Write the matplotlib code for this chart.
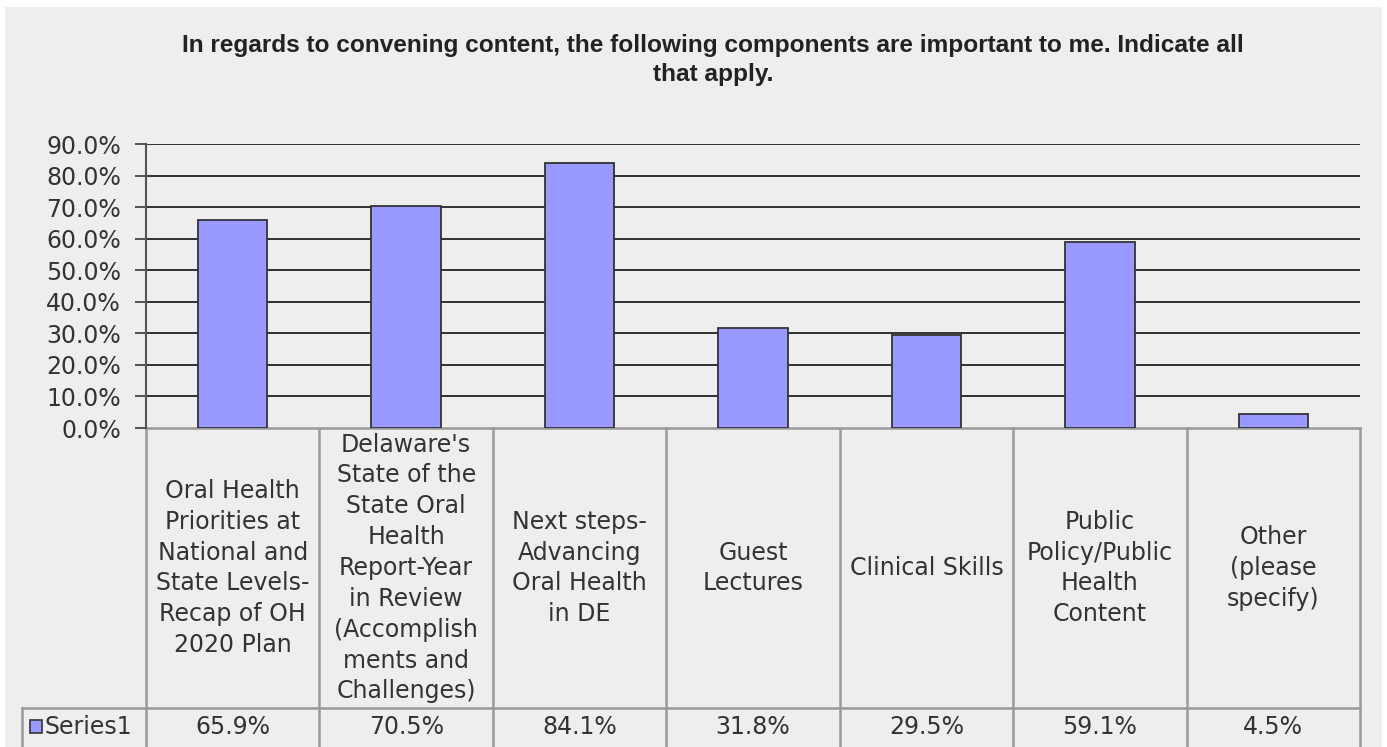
import matplotlib
matplotlib.use("Agg")
import matplotlib.pyplot as plt
from matplotlib.patches import Rectangle
from matplotlib.lines import Line2D

# survey results
categories = [
    "Oral Health\nPriorities at\nNational and\nState Levels-\nRecap of OH\n2020 Plan",
    "Delaware's\nState of the\nState Oral\nHealth\nReport-Year\nin Review\n(Accomplish\nments and\nChallenges)",
    "Next steps-\nAdvancing\nOral Health\nin DE",
    "Guest\nLectures",
    "Clinical Skills",
    "Public\nPolicy/Public\nHealth\nContent",
    "Other\n(please\nspecify)",
]
values = [65.9, 70.5, 84.1, 31.8, 29.5, 59.1, 4.5]
series_name = "Series1"
title = ("In regards to convening content, the following components are important to me. Indicate all\n"
         "that apply.")

W, H = 1387, 747
BG = "#eeeeee"
BAR = "#9999ff"
TXT = "#333333"
GRIDC = "#222222"
TABC = "#999999"
FS = 17

fig = plt.figure(figsize=(W / 100, H / 100), dpi=100, facecolor="white")

# overlay in pixel coordinates for background and table
ov = fig.add_axes([0, 0, 1, 1], zorder=0)
ov.set_xlim(0, W)
ov.set_ylim(H, 0)
ov.axis("off")
ov.add_patch(Rectangle((5, 7), 1377, H - 7, facecolor=BG, edgecolor="none"))

# plot area
left, right, top, bottom = 146, 1360, 144, 428
ax = fig.add_axes([left / W, 1 - bottom / H, (right - left) / W, (bottom - top) / H], zorder=1)
ax.patch.set_alpha(0)
n = len(values)
x = range(n)
ax.bar(x, [v / 100 for v in values], width=0.4, color=BAR, edgecolor="#333333", linewidth=1.3, zorder=3)
ax.set_xlim(-0.5, n - 0.5)
ax.set_ylim(0, 0.9)
yt = [i / 10 for i in range(10)]
ax.set_yticks(yt)
ax.set_yticklabels([f"{t * 100:.1f}%" for t in yt], fontsize=FS, color=TXT)
ax.tick_params(axis="y", length=8, width=1.3, color="#444444", pad=10)
ax.set_xticks([])
for t in yt[1:]:
    ax.axhline(t, color=GRIDC, linewidth=1.3, zorder=1)
for s in ["top", "right", "bottom"]:
    ax.spines[s].set_visible(False)
ax.spines["left"].set_color("#555555")
ax.spines["left"].set_linewidth(1.5)

# data table under the axis
col_w = (right - left) / n
row_y = 708
ov.add_line(Line2D([left, right], [bottom, bottom], color=TABC, lw=1.8))
ov.add_line(Line2D([22, right], [row_y, row_y], color=TABC, lw=1.8))
ov.add_line(Line2D([22, 22], [row_y, H], color=TABC, lw=1.8))
for i in range(n + 1):
    xb = left + i * col_w
    ov.add_line(Line2D([xb, xb], [bottom, H], color=TABC, lw=1.8))
for i, (c, v) in enumerate(zip(categories, values)):
    xc = left + (i + 0.5) * col_w
    ov.text(xc, (bottom + row_y) / 2, c, ha="center", va="center", fontsize=FS,
            color=TXT, linespacing=1.36)
    ov.text(xc, 727, f"{v:.1f}%", ha="center", va="center", fontsize=FS, color=TXT)

# legend key in the series row
ov.add_patch(Rectangle((30, 720), 12, 13, facecolor=BAR, edgecolor="#333333", lw=1.2))
ov.text(44, 727, series_name, ha="left", va="center", fontsize=FS, color=TXT)

fig.text(713 / W, 1 - 60 / H, title, ha="center", va="center", fontsize=17.6,
         fontweight="bold", color="#222222", linespacing=1.3,
         family=["Liberation Sans", "DejaVu Sans"])

fig.savefig("out.png", dpi=100, facecolor=fig.get_facecolor())
